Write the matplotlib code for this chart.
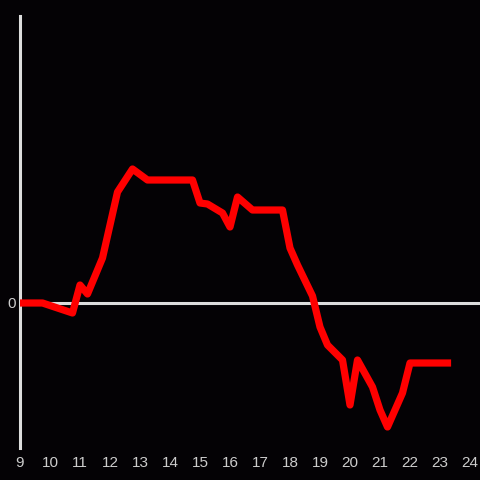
import numpy as np
import matplotlib.pyplot as plt

# hour of day (15-min steps) and relative value
hours = [9.0, 9.75, 10.75, 11.0, 11.25, 11.75, 12.25, 12.75, 13.25, 14.75,
         15.0, 15.25, 15.75, 16.0, 16.25, 16.75, 17.75, 18.0, 18.25, 18.75,
         19.0, 19.25, 19.75, 20.0, 20.25, 20.75, 21.0, 21.25, 21.75, 22.0, 23.25]
values = [0, 0, -10, 18, 9, 45, 111, 134, 123, 123,
          100, 99, 90, 76, 106, 93, 93, 55, 38, 7,
          -24, -42, -57, -102, -57, -84, -107, -124, -90, -60, -60]
xticks = list(range(9, 25))

bg = '#040205'
axis_col = '#dddddd'

fig = plt.figure(figsize=(4.8, 4.8), dpi=100, facecolor=bg)
ax = fig.add_axes([20/480, 32/480, 460/480, 432/480], facecolor=bg)

ax.axhline(0, color=axis_col, lw=2.2, zorder=1)
ax.plot(hours, values, color='#ff0000', lw=5.2, zorder=3, solid_joinstyle='round')

ax.set_xlim(9, 9 + 460/30)
ax.set_ylim(-145, 287)

ax.set_xticks(xticks)
ax.set_yticks([0])
ax.tick_params(length=0, colors='#cccccc', labelsize=11)
ax.tick_params(axis='x', pad=6)
ax.tick_params(axis='y', pad=3)
for lab in ax.get_xticklabels() + ax.get_yticklabels():
    lab.set_family('Liberation Sans')

for s in ['top', 'right', 'bottom']:
    ax.spines[s].set_visible(False)
ax.spines['left'].set_color(axis_col)
ax.spines['left'].set_linewidth(2.2)

fig.savefig('out.png', dpi=100, facecolor=bg)
